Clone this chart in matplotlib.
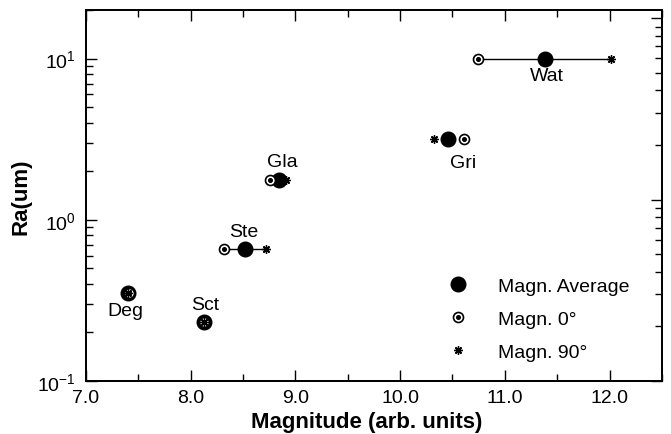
import matplotlib
matplotlib.use("Agg")
import matplotlib.pyplot as plt
from matplotlib.ticker import FixedLocator, LogLocator, NullFormatter, FuncFormatter

plt.rcParams['font.family'] = ['Liberation Sans', 'DejaVu Sans']
plt.rcParams['mathtext.fontset'] = 'custom'
plt.rcParams['mathtext.rm'] = 'Liberation Sans'
plt.rcParams['mathtext.it'] = 'Liberation Sans:italic'
plt.rcParams['mathtext.bf'] = 'Liberation Sans:bold'

# Samples and their roughness / magnitude readings
samples = ["Wat", "Gri", "Gla", "Ste", "Deg", "Sct"]
ra_um = [10.0, 3.15, 1.77, 0.66, 0.35, 0.232]
magn_avg = [11.38, 10.46, 8.84, 8.52, 7.40, 8.13]
magn_0 = [10.74, 10.61, 8.76, 8.32, 7.41, 8.13]
magn_90 = [12.01, 10.32, 8.91, 8.72, 7.40, 8.13]
# label offsets in points (dx, dy) from the average marker
label_offsets = [(2, -12.5), (11, -16.5), (3, 13), (-1, 12.5), (-2, -12.5), (1, 12.5)]
connected = [True, False, True, True, False, False]

fig = plt.figure(figsize=(6.71, 4.35), dpi=100)
ax = fig.add_axes([0.128, 0.1218, 0.8584, 0.8529])
ax.set_yscale('log')

# Range lines between the 0 deg and 90 deg readings
for m0, m90, ra, c in zip(magn_0, magn_90, ra_um, connected):
    if c:
        ax.plot([m0, m90], [ra, ra], color='black', lw=1.0, zorder=1)

h_avg, = ax.plot(magn_avg, ra_um, 'o', ms=10.5, color='black', ls='none', zorder=2)
h0_ring, = ax.plot(magn_0, ra_um, 'o', ms=7.2, mfc='white', mec='black', mew=1.2,
                   ls='none', zorder=3)
h0_dot, = ax.plot(magn_0, ra_um, 'o', ms=2.6, color='black', ls='none', zorder=4)
h90, = ax.plot(magn_90, ra_um, ls='none', marker=(8, 2, 0), ms=6.0, mew=1.0,
               color='black', zorder=5)

for name, x, y, (dx, dy) in zip(samples, magn_avg, ra_um, label_offsets):
    ax.annotate(name, (x, y), xytext=(dx, dy), textcoords='offset points',
                ha='center', va='center', fontsize=14)

ax.set_xlim(7.0, 12.5)
ax.set_ylim(0.1, 20)

ax.xaxis.set_major_locator(FixedLocator([7, 8, 9, 10, 11, 12]))
ax.xaxis.set_minor_locator(FixedLocator([7.5, 8.5, 9.5, 10.5, 11.5, 12.5]))
ax.xaxis.set_major_formatter(FuncFormatter(lambda v, p: f"{v:.1f}"))
ax.yaxis.set_major_locator(FixedLocator([0.1, 1, 10]))
ax.yaxis.set_major_formatter(FuncFormatter(
    lambda v, p: {0.1: r'$10^{-1}$', 1: r'$10^{0}$', 10: r'$10^{1}$'}.get(round(v, 3), '')))
ax.yaxis.set_minor_locator(LogLocator(base=10, subs=range(2, 10)))
ax.yaxis.set_minor_formatter(NullFormatter())

ax.tick_params(which='both', direction='in', top=True, right=False, labelsize=14,
               width=1.0)
ax.tick_params(which='major', length=8)
ax.tick_params(which='minor', length=5)
ax.tick_params(axis='x', which='major', pad=6)
ax.tick_params(axis='y', which='major', pad=7)
for s in ax.spines.values():
    s.set_linewidth(1.3)

# Right-hand log axis carries its own tick scale
axr = ax.twinx()
axr.set_yscale('log')
axr.set_ylim(0.1, 11.1)
axr.yaxis.set_major_locator(FixedLocator([0.1, 1, 10]))
axr.yaxis.set_minor_locator(LogLocator(base=10, subs=range(2, 10)))
axr.yaxis.set_major_formatter(NullFormatter())
axr.yaxis.set_minor_formatter(NullFormatter())
axr.tick_params(which='both', direction='in', width=1.0)
axr.tick_params(which='major', length=8)
axr.tick_params(which='minor', length=5)
for s in axr.spines.values():
    s.set_linewidth(1.3)

ax.set_xlabel("Magnitude (arb. units)", fontsize=16, fontweight='bold', labelpad=3,
              x=0.487)
ax.set_ylabel("Ra(um)", fontsize=16, fontweight='bold', labelpad=4)

ax.legend([h_avg, (h0_ring, h0_dot), h90],
          ["Magn. Average", "Magn. 0°", "Magn. 90°"],
          loc='lower right', bbox_to_anchor=(0.974, 0.006), frameon=False,
          fontsize=14, handletextpad=1.3, labelspacing=0.8, numpoints=1,
          handlelength=1.5)

fig.savefig("out.png", dpi=100)
